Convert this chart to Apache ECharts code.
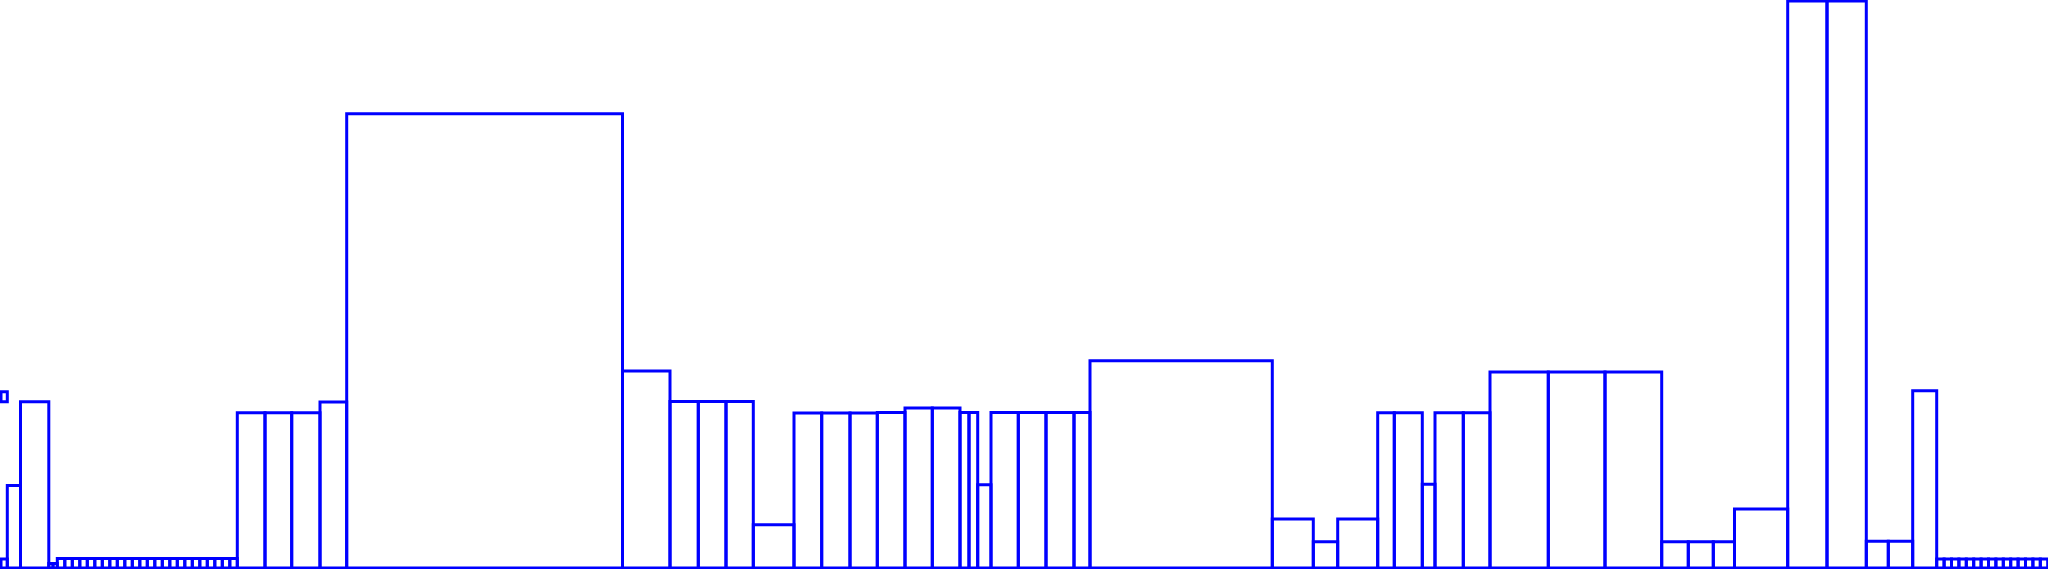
<!DOCTYPE html>
<html>
<head>
<meta charset="utf-8">
<script src="https://cdn.jsdelivr.net/npm/echarts@6/dist/echarts.min.js"></script>
<style>
html,body{margin:0;padding:0;background:#ffffff;}
#chart{width:2048px;height:569px;}
</style>
</head>
<body>
<div id="chart"></div>
<script>
// x position where the first bar begins
const startX = 1;
// width of each consecutive bar (left to right)
const barWidths = [
  6.3, 13.2, 28.3, 4.2, 4.3,
  7.5, 7.5, 7.5, 7.5, 7.5, 7.5, 7.5, 7.5, 7.5, 7.5, 7.5, 7.5,
  7.5, 7.5, 7.5, 7.5, 7.5, 7.5, 7.5, 7.5, 7.5, 7.5, 7.5, 7.5,
  27.7, 26.7, 28.3, 26.7, 275.8, 47.5, 28.3, 27.7, 27.3, 40.7,
  27.7, 28.3, 27.3, 27.7, 27.3, 27.7, 9, 8.7, 13.3, 27.3, 27.7, 28, 16,
  182.3, 41, 24.4, 40, 16.6, 28, 12.7, 28.3, 26.7,
  58.3, 56.7, 56.7, 26.6, 25, 21.2, 53.2, 39.3, 39.3, 22, 24.4, 24,
  7.4, 7.4, 7.4, 7.4, 7.4, 7.4, 7.4, 7.4, 7.4, 7.4, 7.4, 7.4, 7.4, 7.4, 7.4
];
// height of each bar
const barValues = [
  9, 82.5, 166.2, 4.5, 4.5,
  9.4, 9.4, 9.4, 9.4, 9.4, 9.4, 9.4, 9.4, 9.4, 9.4, 9.4, 9.4,
  9.4, 9.4, 9.4, 9.4, 9.4, 9.4, 9.4, 9.4, 9.4, 9.4, 9.4, 9.4,
  155.2, 155.2, 155.2, 166, 454.3, 197, 166.5, 166.5, 166.5, 43.3,
  155, 155, 155, 155.5, 160, 160, 155.5, 155.5, 83.3, 155.5, 155.5, 155.5, 155.5,
  207.2, 49, 26.3, 49, 155.2, 155.2, 83.7, 155.2, 155.2,
  196, 196, 196, 26.3, 26.3, 26.3, 59, 567, 567, 26.7, 26.7, 177.3,
  9, 9, 9, 9, 9, 9, 9, 9, 9, 9, 9, 9, 9, 9, 9
];
// floating box (x range and y range)
const floatX = [1, 7.3];
const floatY = [166.3, 176.3];

const rects = [];
let x = startX;
for (let i = 0; i < barWidths.length; i++) {
  rects.push([x, x + barWidths[i], 0, barValues[i]]);
  x += barWidths[i];
}
rects.push([floatX[0], floatX[1], floatY[0], floatY[1]]);

const chart = echarts.init(document.getElementById('chart'), null, {renderer: 'canvas'});
chart.setOption({
  animation: false,
  backgroundColor: '#ffffff',
  grid: {left: 0, right: 0, top: 0, bottom: 1, containLabel: false},
  xAxis: {type: 'value', min: 0, max: 2048, show: false},
  yAxis: {type: 'value', min: 0, max: 568, show: false},
  series: [{
    type: 'custom',
    clip: false,
    encode: {x: [0, 1], y: [2, 3]},
    data: rects,
    renderItem: function (params, api) {
      const p0 = api.coord([api.value(0), api.value(3)]);
      const p1 = api.coord([api.value(1), api.value(2)]);
      return {
        type: 'rect',
        shape: {x: p0[0], y: p0[1], width: p1[0] - p0[0], height: p1[1] - p0[1]},
        style: {fill: 'none', stroke: '#0000ff', lineWidth: 3}
      };
    }
  }]
});
</script>
</body>
</html>
